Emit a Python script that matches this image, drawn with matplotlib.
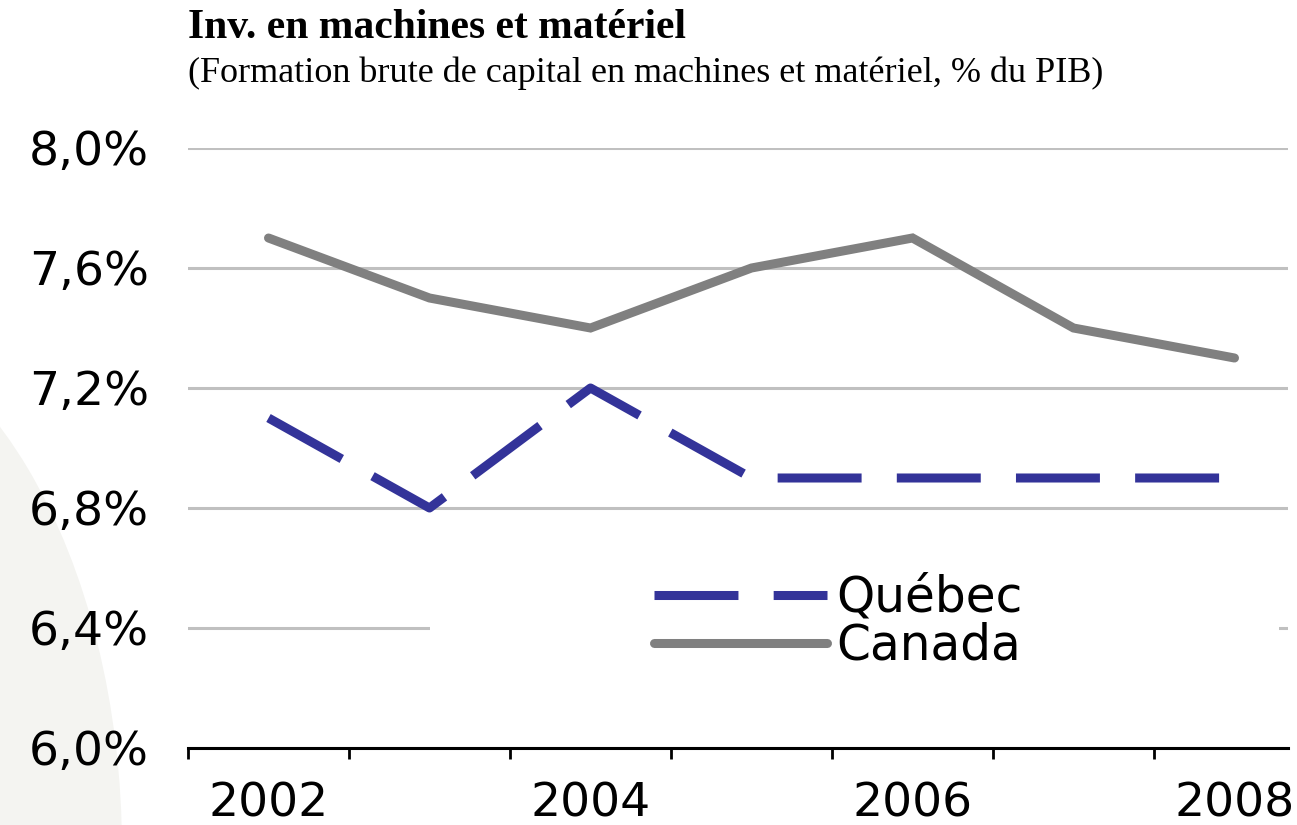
import matplotlib
matplotlib.use("Agg")
import matplotlib.pyplot as plt
from matplotlib.patches import Ellipse, Rectangle
from matplotlib.ticker import FixedLocator, FixedFormatter

years = ["2002", "2003", "2004", "2005", "2006", "2007", "2008"]
quebec = [7.1, 6.8, 7.2, 6.9, 6.9, 6.9, 6.9]
canada = [7.7, 7.5, 7.4, 7.6, 7.7, 7.4, 7.3]
y_ticks = [6.0, 6.4, 6.8, 7.2, 7.6, 8.0]
y_labels = ["6,0%", "6,4%", "6,8%", "7,2%", "7,6%", "8,0%"]

W, H = 1297, 825
fig = plt.figure(figsize=(W / 100, H / 100), dpi=100)
fig.patch.set_facecolor("white")

# faint grey backdrop on the left
bg = Ellipse((-200 / W, 1 - 850 / H), 2 * 322 / W, 2 * 540 / H,
             transform=fig.transFigure, facecolor="#f4f4f1",
             edgecolor="none", zorder=-10)
fig.patches.append(bg)

ax = fig.add_axes([188 / W, 1 - 748 / H, (1288 - 188) / W, 600 / H])
ax.patch.set_alpha(0)

x = list(range(len(years)))
ax.plot(x, canada, color="#808080", lw=6.5, solid_capstyle="round",
        solid_joinstyle="miter", label="Canada", zorder=3)
ax.plot(x, quebec, color="#333399", lw=6.5, dashes=(9.3, 3.9),
        dash_capstyle="butt", label="Québec", zorder=4)

# one category is ~161 px wide; the axis runs past the last tick
ax.set_xlim(-0.5, -0.5 + (1288 - 188) / 161)
ax.set_ylim(6.0, 8.0)

ax.set_yticks(y_ticks)
ax.set_yticklabels(y_labels)
ax.yaxis.grid(True, color="#c0c0c0", lw=2.2)
ax.set_axisbelow(True)
ax.tick_params(axis="y", length=0, pad=28, labelsize=34)

ax.xaxis.set_major_locator(FixedLocator([i - 0.5 for i in range(len(years))]))
ax.xaxis.set_major_formatter(FixedFormatter([""] * len(years)))
ax.xaxis.set_minor_locator(FixedLocator(x[::2]))
ax.xaxis.set_minor_formatter(FixedFormatter(years[::2]))
ax.tick_params(axis="x", which="major", length=8, width=2, direction="out")
ax.tick_params(axis="x", which="minor", length=0, pad=24, labelsize=34)

for s in ["left", "right", "top"]:
    ax.spines[s].set_visible(False)
ax.spines["bottom"].set_linewidth(2.2)

# white block behind the legend hides part of the 6,4% gridline
ax.add_patch(Rectangle((0.22, 0.14), 0.772, 0.16, transform=ax.transAxes,
                       facecolor="white", edgecolor="none", zorder=1))

handles, labels = ax.get_legend_handles_labels()
leg = ax.legend(handles[::-1], labels[::-1], loc="upper left",
                bbox_to_anchor=(0.424, 0.29), frameon=False, fontsize=35,
                handlelength=3.56, handletextpad=0.19, labelspacing=0.0,
                borderaxespad=0, borderpad=0)

fig.text(188 / W, 1 - 28 / H, "Inv. en machines et matériel",
         family="Liberation Serif", weight="bold", fontsize=30, va="center")
fig.text(188 / W, 1 - 73 / H,
         "(Formation brute de capital en machines et matériel, % du PIB)",
         family="Liberation Serif", fontsize=26, va="center")

fig.savefig("out.png", dpi=100)
